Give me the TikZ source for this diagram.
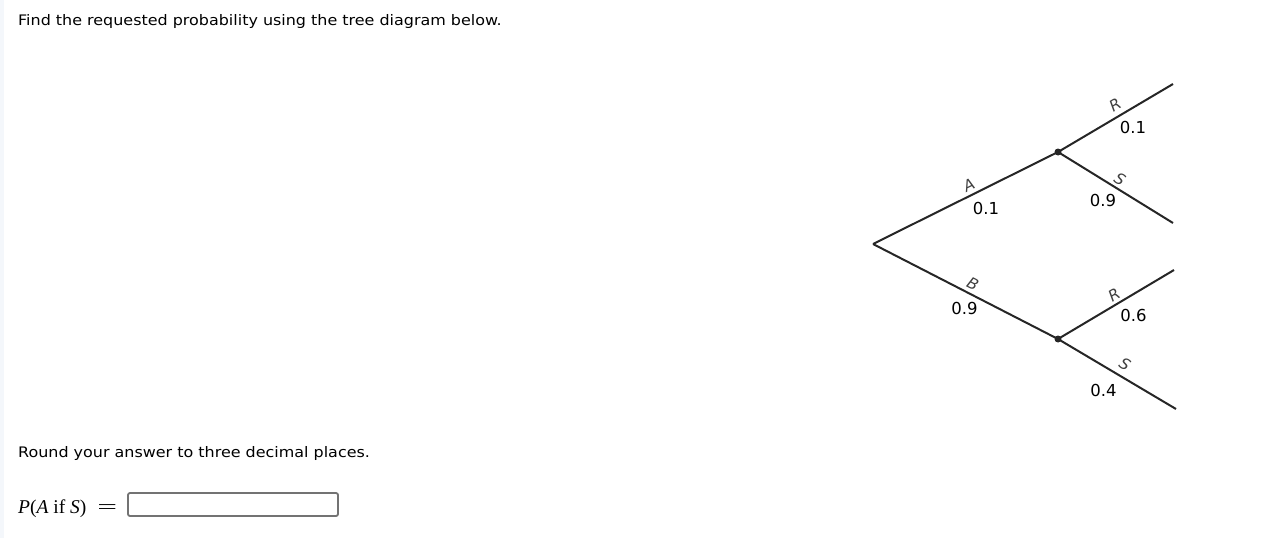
\documentclass[tikz,border=0pt]{standalone}
\usepackage{fontspec}
\usepackage{graphicx}
\setmainfont{DejaVu Sans}
\newfontfamily\qfont[FakeStretch=1.1]{DejaVu Sans}
\newfontfamily\answerfont{Liberation Serif}
\usetikzlibrary{positioning}
\definecolor{edgestrip}{RGB}{244,247,251}
\tikzset{
dotstyle/.style={
  circle,
  fill=black!85,
  inner sep=0pt,
  minimum size=7pt,
  }
}
\tikzset{
branch/.style={
  line width=2pt,
  draw=black!85,
  }
}
\tikzset{
evlabel/.style={
  font=\fontsize{15.5}{15.5}\selectfont\itshape,
  text=black!75,
  inner sep=0pt,
  }
}
\tikzset{
problabel/.style={
  font=\fontsize{16.5}{16.5}\selectfont,
  inner sep=0pt,
  }
}
\tikzset{
qtext/.style={
  font=\qfont\fontsize{14.5}{14.5}\selectfont,
  anchor=base west,
  inner sep=0pt,
  }
}

\begin{document}
\begin{tikzpicture}[x=1pt,y=-1pt]
    \useasboundingbox (0,0) rectangle (1266,538);
    \fill[edgestrip] (0,0) rectangle (4,538);

    % question text
    \node[qtext] (q_find) at (18,25.5) {Find the requested probability using the tree diagram below.};
    \node[qtext] (q_round) at (18,457) {Round your answer to three decimal places.};
    \node[anchor=base west, inner sep=0pt, font=\answerfont\fontsize{19.5}{19.5}\selectfont] (q_ans) at (18,513)
      {\textit{P}(\textit{A} if \textit{S})\hspace{11pt}\scalebox{1.8}[1]{=}};
    \draw[draw=black!55, line width=1.8pt, rounded corners=2pt] (128,493) rectangle (338,516);

    % tree nodes
    \coordinate (root) at (873,244);
    \node[dotstyle] (n_a) at (1058,152) {};
    \node[dotstyle] (n_b) at (1058,339) {};
    \coordinate (end_ar) at (1173,84);
    \coordinate (end_as) at (1173,223);
    \coordinate (end_br) at (1174,270);
    \coordinate (end_bs) at (1176,409);

    % branches
    \draw[branch] (root) -- (n_a.center);
    \draw[branch] (root) -- (n_b.center);
    \draw[branch] (n_a.center) -- (end_ar);
    \draw[branch] (n_a.center) -- (end_as);
    \draw[branch] (n_b.center) -- (end_br);
    \draw[branch] (n_b.center) -- (end_bs);

    % first stage labels
    \node[evlabel, rotate=26] (lab_a) at (969,185.5) {A};
    \node[problabel] (p_a) at (986,208) {0.1};
    \node[evlabel, rotate=-27] (lab_b) at (973,284) {B};
    \node[problabel] (p_b) at (964.5,308.5) {0.9};

    % second stage labels
    \node[evlabel, rotate=31] (lab_ar) at (1115,105) {R};
    \node[problabel] (p_ar) at (1133,127) {0.1};
    \node[evlabel, rotate=-31] (lab_as) at (1120,179) {S};
    \node[problabel] (p_as) at (1103,200) {0.9};
    \node[evlabel, rotate=31] (lab_br) at (1114,294.5) {R};
    \node[problabel] (p_br) at (1133.5,315) {0.6};
    \node[evlabel, rotate=-31] (lab_bs) at (1125,364.5) {S};
    \node[problabel] (p_bs) at (1103.5,390) {0.4};
\end{tikzpicture}
\end{document}
